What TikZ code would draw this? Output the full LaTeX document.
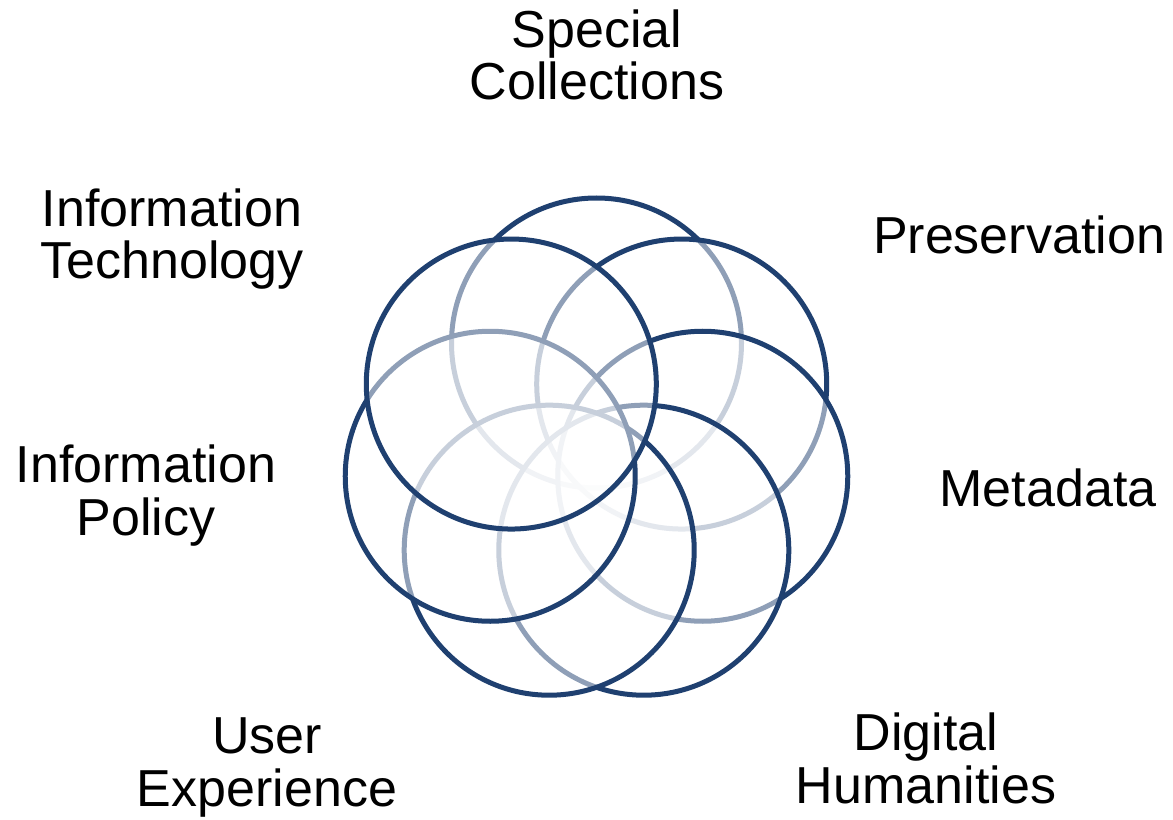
\documentclass[tikz,border=0pt]{standalone}
\usepackage{fontspec}
\setmainfont{Liberation Sans}
\definecolor{ringblue}{RGB}{31,64,112}
\tikzset{
  ring/.style={circle, draw=ringblue, line width=0.1cm, fill=white, fill opacity=0.5, draw opacity=1, minimum size=5.8cm, inner sep=0pt},
  lbl/.style={align=center, font=\fontsize{29.6}{29.6}\selectfont, anchor=base, inner sep=0pt}
}
\begin{document}
\begin{tikzpicture}
    \path[use as bounding box] (0,0) rectangle (23.46,-16.4);

    \coordinate (mid) at (11.93,-9.04);
    % circles, clockwise from the top
    \foreach \i in {0,...,6}
        \node[ring] (c\i) at ([shift={(90-\i*360/7:2.18)}]mid) {};

    % labels, base = last line
    \node[lbl] (special) at (11.94,-2.0) {Special\\Collections};
    \node[lbl] (preserv) at (20.38,-5.08) {Preservation};
    \node[lbl] (meta) at (20.96,-10.12) {Metadata};
    \node[lbl] (digital) at (18.52,-16.06) {Digital\\Humanities};
    \node[lbl] (user) at (5.34,-16.12) {User\\Experience};
    \node[lbl] (policy) at (2.92,-10.7) {Information\\Policy};
    \node[lbl] (tech) at (3.44,-5.58) {Information\\Technology};
\end{tikzpicture}
\end{document}
